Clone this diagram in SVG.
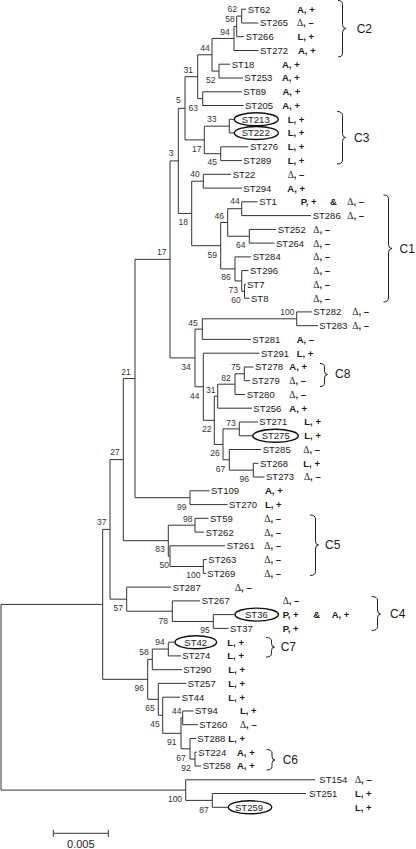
<svg xmlns="http://www.w3.org/2000/svg" width="416" height="849" viewBox="0 0 416 849">
<style>
.e{fill:none;stroke:#333;stroke-width:1}
.br{fill:none;stroke:#222;stroke-width:1}
.ov{fill:none;stroke:#111;stroke-width:1.4}
text{font-family:"Liberation Sans",Arial,sans-serif;fill:#1a1a1a}
.n{font-size:9.5px}
.t{font-size:9.5px;font-weight:bold}
.d{font-family:"Liberation Serif","DejaVu Serif",serif;font-weight:normal}
.b{font-size:8.5px;text-anchor:middle;fill:#333}
.c{font-size:12px}
.s{font-size:11px;text-anchor:middle}
</style>
<rect width="416" height="849" fill="#fff"/>
<g id="connectors">
<path class="e" d="M246 9.2H241.7V23H258.5"/>
<path class="e" d="M241.7 16.1H236.7V36.7H244"/>
<path class="e" d="M236.7 26.4H234V50.5H258.5"/>
<path class="e" d="M230 64.2H219V78H243"/>
<path class="e" d="M234 38.45H212V71.1H219"/>
<path class="e" d="M242 91.8H202.7V105.5H243.5"/>
<path class="e" d="M212 54.8H197.7V98.65H202.7"/>
<path class="e" d="M234.3 119.3H229.3V133H234.3"/>
<path class="e" d="M248.5 146.8H220.7V160.6H242"/>
<path class="e" d="M229.3 126.15H204.3V153.7H220.7"/>
<path class="e" d="M197.7 76.7H185V139.9H204.3"/>
<path class="e" d="M231 174.3H203.3V188.1H242"/>
<path class="e" d="M257.5 201.8H241.7V215.6H311"/>
<path class="e" d="M276 229.4H249.3V243.1H274.5"/>
<path class="e" d="M241.7 208.7H227.7V236.25H249.3"/>
<path class="e" d="M246 284.4H244.5V298.2H249.5"/>
<path class="e" d="M248.5 270.6H241.7V291.3H244.5"/>
<path class="e" d="M251 256.9H235V280.95H241.7"/>
<path class="e" d="M227.7 222.5H220.7V268.9H235"/>
<path class="e" d="M203.3 181.2H191.7V245.7H220.7"/>
<path class="e" d="M185 108.3H178.3V213.45H191.7"/>
<path class="e" d="M312 311.9H296.7V325.7H318"/>
<path class="e" d="M296.7 318.8H202.3V339.4H251"/>
<path class="e" d="M253.5 367H244.3V380.7H250"/>
<path class="e" d="M244.3 373.85H235V394.5H245"/>
<path class="e" d="M235 384.2H217.7V408.2H252"/>
<path class="e" d="M258 422H239.3V435.8H252.7"/>
<path class="e" d="M258.5 463.3H253.3V477H264.5"/>
<path class="e" d="M261 449.5H229.3V470.15H253.3"/>
<path class="e" d="M239.3 428.9H223V459.8H229.3"/>
<path class="e" d="M217.7 396.2H214.3V444.4H223"/>
<path class="e" d="M259.5 353.2H203.3V420.3H214.3"/>
<path class="e" d="M202.3 329.1H195V386.75H203.3"/>
<path class="e" d="M178.3 160.9H170V357.9H195"/>
<path class="e" d="M209.5 490.8H190V504.6H227.5"/>
<path class="e" d="M170 259.4H135V497.7H190"/>
<path class="e" d="M208.5 518.3H195V532.1H204"/>
<path class="e" d="M207 559.6H203.3V573.4H206"/>
<path class="e" d="M225 545.8H170V566.5H203.3"/>
<path class="e" d="M195 525.2H168.3V556.15H170"/>
<path class="e" d="M135 378.55H123.3V540.7H168.3"/>
<path class="e" d="M235 614.6H213.3V628.4H228.5"/>
<path class="e" d="M200 600.9H172.3V621.5H213.3"/>
<path class="e" d="M171 587.1H126.7V611.2H172.3"/>
<path class="e" d="M123.3 459.6H110V599.15H126.7"/>
<path class="e" d="M175 642.2H168.3V655.9H181"/>
<path class="e" d="M168.3 649.05H152.3V669.7H182"/>
<path class="e" d="M197 752.2H195V766H201"/>
<path class="e" d="M196 738.5H190V759.1H195"/>
<path class="e" d="M193.5 711H182.7V724.7H198"/>
<path class="e" d="M182.7 717.85H181V748.8H190"/>
<path class="e" d="M180 697.2H162.7V733.3H181"/>
<path class="e" d="M186 683.4H158.3V715.25H162.7"/>
<path class="e" d="M152.3 659.4H147.7V699.3H158.3"/>
<path class="e" d="M110 529.4H102.7V679.35H147.7"/>
<path class="e" d="M306 793.5H212.3V807.3H228.3"/>
<path class="e" d="M315 779.8H185.7V800.4H212.3"/>
<path class="e" d="M102.7 604.4H1V790.1H185.7"/>
</g>
<g id="bootstrap">
<text class="b" x="232.3" y="12">62</text>
<text class="b" x="230" y="22">58</text>
<text class="b" x="225" y="34.7">94</text>
<text class="b" x="205" y="51.3">44</text>
<text class="b" x="188.3" y="73">31</text>
<text class="b" x="210.7" y="83">52</text>
<text class="b" x="193.3" y="110.5">63</text>
<text class="b" x="178.3" y="103">5</text>
<text class="b" x="211.7" y="122">33</text>
<text class="b" x="196.7" y="152.3">17</text>
<text class="b" x="212.3" y="165.3">45</text>
<text class="b" x="171" y="156.3">3</text>
<text class="b" x="195" y="177">40</text>
<text class="b" x="235" y="204">44</text>
<text class="b" x="219.3" y="218.7">46</text>
<text class="b" x="183.3" y="225">18</text>
<text class="b" x="240.7" y="248">64</text>
<text class="b" x="212.3" y="258">59</text>
<text class="b" x="226" y="280.3">86</text>
<text class="b" x="233.3" y="293">73</text>
<text class="b" x="236" y="303">60</text>
<text class="b" x="161.7" y="254.7">17</text>
<text class="b" x="287.3" y="314.7">100</text>
<text class="b" x="193" y="325.5">45</text>
<text class="b" x="186" y="370">34</text>
<text class="b" x="235.7" y="370.3">75</text>
<text class="b" x="226" y="381.3">82</text>
<text class="b" x="210.7" y="393">31</text>
<text class="b" x="194.7" y="399">44</text>
<text class="b" x="206.7" y="432">22</text>
<text class="b" x="231" y="425.7">73</text>
<text class="b" x="215" y="456.3">26</text>
<text class="b" x="220.5" y="472">67</text>
<text class="b" x="244.3" y="482">96</text>
<text class="b" x="126" y="374.7">21</text>
<text class="b" x="181.7" y="509.7">99</text>
<text class="b" x="115" y="455.3">27</text>
<text class="b" x="187.7" y="521.5">98</text>
<text class="b" x="160" y="552.3">83</text>
<text class="b" x="164.3" y="568">50</text>
<text class="b" x="193.3" y="578">100</text>
<text class="b" x="101.7" y="525">37</text>
<text class="b" x="118.3" y="611.3">57</text>
<text class="b" x="163.3" y="623.7">78</text>
<text class="b" x="205" y="633">95</text>
<text class="b" x="160" y="644.7">94</text>
<text class="b" x="144" y="655.3">58</text>
<text class="b" x="139.3" y="691.3">96</text>
<text class="b" x="150" y="711.3">65</text>
<text class="b" x="155" y="727">45</text>
<text class="b" x="176.7" y="713.7">44</text>
<text class="b" x="171.7" y="744.7">91</text>
<text class="b" x="181" y="761.3">67</text>
<text class="b" x="186" y="771.3">92</text>
<text class="b" x="175" y="802.3">100</text>
<text class="b" x="204" y="813">87</text>
</g>
<g id="ST62"><text class="n" x="247.7" y="12.6">ST62</text><text class="t" x="297" y="12.6">A, +</text></g>
<g id="ST265"><text class="n" x="260" y="26.4">ST265</text><text class="t" x="297" y="26.4"><tspan class="d">Δ</tspan>, –</text></g>
<g id="ST266"><text class="n" x="245.7" y="40.1">ST266</text><text class="t" x="297.5" y="40.1">L, +</text></g>
<g id="ST272"><text class="n" x="260" y="53.9">ST272</text><text class="t" x="298" y="53.9">A, +</text></g>
<g id="ST18"><text class="n" x="231.7" y="67.6">ST18</text><text class="t" x="282" y="67.6">A, +</text></g>
<g id="ST253"><text class="n" x="244.3" y="81.4">ST253</text><text class="t" x="282" y="81.4">A, +</text></g>
<g id="ST89"><text class="n" x="243.3" y="95.2">ST89</text><text class="t" x="282.5" y="95.2">A, +</text></g>
<g id="ST205"><text class="n" x="245" y="108.9">ST205</text><text class="t" x="282.3" y="108.9">A, +</text></g>
<g id="ST213"><ellipse class="ov" cx="256.3" cy="119.3" rx="22" ry="6.5"/><text class="n" x="241.7" y="122.7">ST213</text><text class="t" x="287.7" y="122.7">L, +</text></g>
<g id="ST222"><ellipse class="ov" cx="256.3" cy="133" rx="22" ry="6.5"/><text class="n" x="241.7" y="136.4">ST222</text><text class="t" x="287.7" y="136.4">L, +</text></g>
<g id="ST276"><text class="n" x="250" y="150.2">ST276</text><text class="t" x="287.7" y="150.2">L, +</text></g>
<g id="ST289"><text class="n" x="243.3" y="164">ST289</text><text class="t" x="287.7" y="164">L, +</text></g>
<g id="ST22"><text class="n" x="232.7" y="177.7">ST22</text><text class="t" x="287.7" y="177.7"><tspan class="d">Δ</tspan>, –</text></g>
<g id="ST294"><text class="n" x="243.3" y="191.5">ST294</text><text class="t" x="287.3" y="191.5">A, +</text></g>
<g id="ST1"><text class="n" x="259.3" y="205.2">ST1</text><text class="t" x="300.7" y="205.2">P, +</text><text class="t" x="330" y="205.2">&amp;</text><text class="t" x="347.3" y="205.2"><tspan class="d">Δ</tspan>, –</text></g>
<g id="ST286"><text class="n" x="312.7" y="219">ST286</text><text class="t" x="347.3" y="219"><tspan class="d">Δ</tspan>, –</text></g>
<g id="ST252"><text class="n" x="277.7" y="232.8">ST252</text><text class="t" x="313.3" y="232.8"><tspan class="d">Δ</tspan>, –</text></g>
<g id="ST264"><text class="n" x="276" y="246.5">ST264</text><text class="t" x="313.3" y="246.5"><tspan class="d">Δ</tspan>, –</text></g>
<g id="ST284"><text class="n" x="252.7" y="260.3">ST284</text><text class="t" x="313.3" y="260.3"><tspan class="d">Δ</tspan>, –</text></g>
<g id="ST296"><text class="n" x="250" y="274">ST296</text><text class="t" x="313.3" y="274"><tspan class="d">Δ</tspan>, –</text></g>
<g id="ST7"><text class="n" x="247" y="287.8">ST7</text><text class="t" x="313.3" y="287.8"><tspan class="d">Δ</tspan>, –</text></g>
<g id="ST8"><text class="n" x="251" y="301.6">ST8</text><text class="t" x="313.3" y="301.6"><tspan class="d">Δ</tspan>, –</text></g>
<g id="ST282"><text class="n" x="313.3" y="315.3">ST282</text><text class="t" x="352.3" y="315.3"><tspan class="d">Δ</tspan>, –</text></g>
<g id="ST283"><text class="n" x="319.3" y="329.1">ST283</text><text class="t" x="352.3" y="329.1"><tspan class="d">Δ</tspan>, –</text></g>
<g id="ST281"><text class="n" x="252.3" y="342.8">ST281</text><text class="t" x="296.7" y="342.8">A, –</text></g>
<g id="ST291"><text class="n" x="261" y="356.6">ST291</text><text class="t" x="296.7" y="356.6">L, +</text></g>
<g id="ST278"><text class="n" x="255" y="370.4">ST278</text><text class="t" x="289.3" y="370.4">A, +</text></g>
<g id="ST279"><text class="n" x="251.7" y="384.1">ST279</text><text class="t" x="289.3" y="384.1"><tspan class="d">Δ</tspan>, –</text></g>
<g id="ST280"><text class="n" x="246.7" y="397.9">ST280</text><text class="t" x="289.3" y="397.9"><tspan class="d">Δ</tspan>, –</text></g>
<g id="ST256"><text class="n" x="253.3" y="411.6">ST256</text><text class="t" x="289.3" y="411.6">A, +</text></g>
<g id="ST271"><text class="n" x="259.3" y="425.4">ST271</text><text class="t" x="304.3" y="425.4">L, +</text></g>
<g id="ST275"><ellipse class="ov" cx="275.5" cy="435.8" rx="22.8" ry="6.5"/><text class="n" x="261.7" y="439.2">ST275</text><text class="t" x="304.3" y="439.2">L, +</text></g>
<g id="ST285"><text class="n" x="262.7" y="452.9">ST285</text><text class="t" x="303.3" y="452.9"><tspan class="d">Δ</tspan>, –</text></g>
<g id="ST268"><text class="n" x="260" y="466.7">ST268</text><text class="t" x="303.3" y="466.7">L, +</text></g>
<g id="ST273"><text class="n" x="266" y="480.4">ST273</text><text class="t" x="304" y="480.4"><tspan class="d">Δ</tspan>, –</text></g>
<g id="ST109"><text class="n" x="211" y="494.2">ST109</text><text class="t" x="265" y="494.2">A, +</text></g>
<g id="ST270"><text class="n" x="229" y="508">ST270</text><text class="t" x="265" y="508">L, +</text></g>
<g id="ST59"><text class="n" x="210" y="521.7">ST59</text><text class="t" x="264.3" y="521.7"><tspan class="d">Δ</tspan>, –</text></g>
<g id="ST262"><text class="n" x="205.7" y="535.5">ST262</text><text class="t" x="264.3" y="535.5"><tspan class="d">Δ</tspan>, –</text></g>
<g id="ST261"><text class="n" x="226.7" y="549.2">ST261</text><text class="t" x="264.3" y="549.2"><tspan class="d">Δ</tspan>, –</text></g>
<g id="ST263"><text class="n" x="208.3" y="563">ST263</text><text class="t" x="264.3" y="563"><tspan class="d">Δ</tspan>, –</text></g>
<g id="ST269"><text class="n" x="207.3" y="576.8">ST269</text><text class="t" x="264.3" y="576.8"><tspan class="d">Δ</tspan>, –</text></g>
<g id="ST287"><text class="n" x="172.7" y="590.5">ST287</text><text class="t" x="235" y="590.5"><tspan class="d">Δ</tspan>, –</text></g>
<g id="ST267"><text class="n" x="201.7" y="604.3">ST267</text><text class="t" x="282.7" y="604.3"><tspan class="d">Δ</tspan>, –</text></g>
<g id="ST36"><ellipse class="ov" cx="256.7" cy="614.6" rx="21.7" ry="6.5"/><text class="n" x="245" y="618">ST36</text><text class="t" x="282.7" y="618">P, +</text><text class="t" x="313.3" y="618">&amp;</text><text class="t" x="331.7" y="618">A, +</text></g>
<g id="ST37"><text class="n" x="230" y="631.8">ST37</text><text class="t" x="282.7" y="631.8">P, +</text></g>
<g id="ST42"><ellipse class="ov" cx="195.8" cy="642.2" rx="20.8" ry="6.5"/><text class="n" x="184.3" y="645.6">ST42</text><text class="t" x="227.3" y="645.6">L, +</text></g>
<g id="ST274"><text class="n" x="182.3" y="659.3">ST274</text><text class="t" x="227.3" y="659.3">L, +</text></g>
<g id="ST290"><text class="n" x="183.3" y="673.1">ST290</text><text class="t" x="228.3" y="673.1">L, +</text></g>
<g id="ST257"><text class="n" x="187.7" y="686.8">ST257</text><text class="t" x="228.3" y="686.8">L, +</text></g>
<g id="ST44"><text class="n" x="181.7" y="700.6">ST44</text><text class="t" x="228.3" y="700.6">L, +</text></g>
<g id="ST94"><text class="n" x="195" y="714.4">ST94</text><text class="t" x="240" y="714.4">L, +</text></g>
<g id="ST260"><text class="n" x="199.3" y="728.1">ST260</text><text class="t" x="240" y="728.1"><tspan class="d">Δ</tspan>, –</text></g>
<g id="ST288"><text class="n" x="197.3" y="741.9">ST288</text><text class="t" x="228.3" y="741.9">L, +</text></g>
<g id="ST224"><text class="n" x="198.3" y="755.6">ST224</text><text class="t" x="237" y="755.6">A, +</text></g>
<g id="ST258"><text class="n" x="202.7" y="769.4">ST258</text><text class="t" x="237" y="769.4">A, +</text></g>
<g id="ST154"><text class="n" x="319.3" y="783.2">ST154</text><text class="t" x="355" y="783.2"><tspan class="d">Δ</tspan>, –</text></g>
<g id="ST251"><text class="n" x="309.3" y="796.9">ST251</text><text class="t" x="355" y="796.9">L, +</text></g>
<g id="ST259"><ellipse class="ov" cx="250" cy="807.3" rx="21.7" ry="6.5"/><text class="n" x="235" y="810.7">ST259</text><text class="t" x="355" y="810.7">L, +</text></g>
<g id="C2"><path class="br" d="M338 0.5Q342.5 0.5 342.5 4.5V24.5Q342.5 28.5 346 28.5Q342.5 28.5 342.5 32.5V53Q342.5 57 338 57"/><text class="c" x="356.7" y="32.6">C2</text></g>
<g id="C3"><path class="br" d="M337 111.5Q342.5 111.5 342.5 115.5V133.5Q342.5 137.5 345.5 137.5Q342.5 137.5 342.5 141.5V160Q342.5 164 337 164"/><text class="c" x="354" y="141.5">C3</text></g>
<g id="C1"><path class="br" d="M383.5 195Q388.5 195 388.5 199V244.5Q388.5 248.5 392 248.5Q388.5 248.5 388.5 252.5V298Q388.5 302 383.5 302"/><text class="c" x="399.5" y="252.8">C1</text></g>
<g id="C8"><path class="br" d="M320 363.5Q324.5 363.5 324.5 367V371Q324.5 374.5 327.5 374.5Q324.5 374.5 324.5 378V383Q324.5 386.5 320 386.5"/><text class="c" x="335" y="377.8">C8</text></g>
<g id="C5"><path class="br" d="M310 515Q315.5 515 315.5 519V541Q315.5 545 318.5 545Q315.5 545 315.5 549V571.5Q315.5 575.5 310 575.5"/><text class="c" x="325" y="549.3">C5</text></g>
<g id="C4"><path class="br" d="M371.5 596.5Q377.5 596.5 377.5 600.5V610Q377.5 614 380.5 614Q377.5 614 377.5 618V626.5Q377.5 630.5 371.5 630.5"/><text class="c" x="390" y="618.3">C4</text></g>
<g id="C7"><path class="br" d="M266 637.5Q271.5 637.5 271.5 641V643.5Q271.5 647 274.5 647Q271.5 647 271.5 650.5V653.5Q271.5 657 266 657"/><text class="c" x="280.7" y="651">C7</text></g>
<g id="C6"><path class="br" d="M266.5 749.5Q272 749.5 272 753V756.5Q272 760 275 760Q272 760 272 763.5V766.5Q272 770 266.5 770"/><text class="c" x="282.7" y="764.3">C6</text></g>
<g id="scale"><path class="e" d="M53.3 833.3H108.3M53.3 829.8V836.8M108.3 829.8V836.8"/><text class="s" x="80.8" y="847.5">0.005</text></g>
</svg>
